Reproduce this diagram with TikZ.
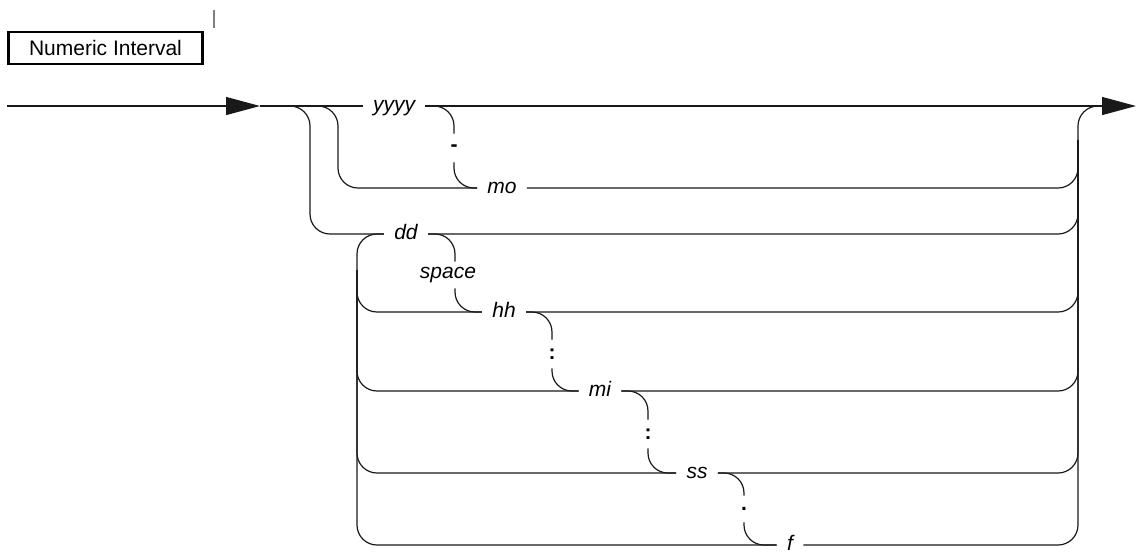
\documentclass[tikz,border=0pt]{standalone}
\usepackage{fontspec}
\setmainfont{Liberation Sans}
\usetikzlibrary{arrows.meta,calc}
\usepackage{tkz-euclide}
\definecolor{RailClr}{rgb}{0.1,0.1,0.1}
\newcommand{\railsize}{\fontsize{10.5pt}{12pt}\selectfont}

\begin{document}
\begin{tikzpicture}[x=.5pt,y=-.5pt,
  rail/.style={line width=.6pt,color=RailClr,rounded corners=10pt},
  railarrow/.style={rail,-{Triangle[length=17pt,width=9pt]}},
  term/.style={font=\railsize\itshape,inner xsep=5pt,inner ysep=1pt,anchor=mid},
  gap/.style={font=\railsize\bfseries,inner sep=0pt,minimum height=14pt}]
\useasboundingbox (0,0) rectangle (1142,554);

\tkzDefPoints{7/106/lead,260/106/entry,1103/106/joinR,1136/106/tipR,
  1078/106/exitR,1078/140/railR,310/234/r1,338/188/r2,357/545/r3,357/270/r4,
  214/10/tickA,214/28/tickB}

% title
\node[draw,line width=1.2pt,minimum width=97pt,minimum height=16pt,
  inner sep=0pt,font=\railsize] (title) at (105.5,48) {Numeric Interval};
\draw[gray,line width=.6pt] (tickA) -- (tickB);

% terms
\node[term] (yyyy) at (394,106) {yyyy};
\node[term] (mo) at (502,188) {mo};
\node[term] (dd) at (406,234) {dd};
\node[term] (hh) at (504,312) {hh};
\node[term] (mi) at (600,391) {mi};
\node[term] (ss) at (697,473) {ss};
\node[term] (f) at (790,545) {f};

% separators
\node[gap] (dash) at (454,148) {-};
\node[term,anchor=center,inner ysep=0pt,minimum height=13pt] (space) at (448,275) {space};
\node[gap] (colonA) at (552,354) {:};
\node[gap] (colonB) at (648,434) {:};
\node[gap,minimum height=13pt] (dot) at (744,509) {.};

% main line
\draw[railarrow] (lead) -- (entry);
\draw[rail] (entry) -- (yyyy.mid west);
\draw[railarrow] (yyyy.mid east) -- (tipR);

% left rails
\draw[rail] (entry) -| (r2) -- (mo.mid west);
\draw[rail] (entry) -| (r1) -- (dd.mid west);
\draw[rail] (dd.mid west) -| (r3) -- (f.mid west);
\foreach \t in {hh,mi,ss}
  \draw[rail] (\t.mid west) -| (r4);

% sequences
\draw[rail] (yyyy.mid east) -| (dash.north);
\draw[rail] (dash.south) |- (mo.mid west);
\draw[rail] (dd.mid east) -| ([xshift=3.5pt]space.north);
\draw[rail] ([xshift=3.5pt]space.south) |- (hh.mid west);
\draw[rail] (hh.mid east) -| (colonA.north);
\draw[rail] (colonA.south) |- (mi.mid west);
\draw[rail] (mi.mid east) -| (colonB.north);
\draw[rail] (colonB.south) |- (ss.mid west);
\draw[rail] (ss.mid east) -| (dot.north);
\draw[rail] (dot.south) |- (f.mid west);

% right rail
\foreach \t in {mo,dd,hh,mi,ss}
  \draw[rail] (\t.mid east) -| (railR);
\draw[rail] (f.mid east) -| (exitR) -- (joinR);

\end{tikzpicture}
\end{document}
